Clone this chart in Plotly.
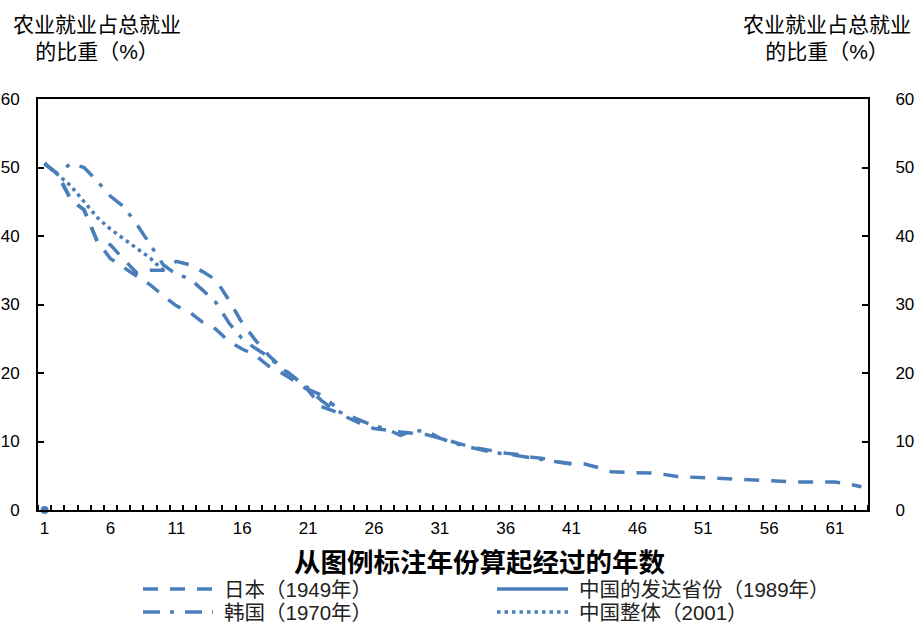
import plotly.graph_objects as go

# ---------------- data ----------------
categories = list(range(1, 64))
x_tick_labels = ["1", "6", "11", "16", "21", "26", "31", "36", "41", "46", "51", "56", "61"]
y_ticks = [0, 10, 20, 30, 40, 50, 60]

japan_1949 = [50.6, 49.0, 45.3, 43.8, 39.2, 36.7, 35.4, 34.2, 32.9, 31.3,
              29.8, 28.9, 27.4, 26.4, 24.6, 23.5, 22.6, 21.0, 20.0, 18.8,
              17.5, 15.1, 14.4, 13.5, 12.6, 11.9, 11.6, 11.4, 11.2, 11.0,
              10.5, 9.9, 9.4, 9.0, 8.6, 8.3, 8.1, 7.7, 7.5, 7.0,
              6.8, 6.7, 6.2, 5.6, 5.5, 5.5, 5.4, 5.2, 4.9, 4.8,
              4.7, 4.6, 4.5, 4.4, 4.3, 4.2, 4.2, 4.1, 4.1, 4.1,
              4.1, 3.8, 3.4]
korea_1970 = [50.5, 49.1, 50.6, 50.0, 48.0, 45.8, 44.3, 41.7, 38.8, 35.8,
              34.4, 33.8, 32.1, 30.3, 27.3, 25.0, 23.6, 22.4, 20.6, 19.3,
              17.8, 16.0, 14.6, 13.8, 13.0, 12.3, 11.8, 10.9, 11.6, 11.5,
              10.5, 9.8, 9.3, 8.8, 8.4, 8.2, 7.9, 7.5, 7.3, 6.9, 6.7]
china_dev_1989 = [0.0]
china_total_2001 = [50.6, 49.0, 47.3, 45.0, 42.7, 41.0, 39.6, 38.1, 36.8, 35.0]
# an extra dashed series drawn in the chart without a legend entry
unlabeled_series = [50.6, 49.0, 45.3, 43.8, 39.2, 38.7, 36.6, 34.6, 35.0, 35.0,
                    36.3, 35.8, 34.8, 33.6, 30.6, 27.3, 24.8, 22.6, 20.8, 19.3,
                    17.6, 16.8, 15.2]

names = ["日本（1949年）", "中国的发达省份（1989年）", "韩国（1970年）", "中国整体（2001）"]

# ---------------- style ----------------
BLUE = "#4A7EBB"
W, H = 916, 623
L, R, T, B = 38, 868, 99, 510
LW = 3.5
DASH_JP = "15px,12px"
DASH_KR = "17px,10px,4px,11px"
DASH_CN = "3.5px,4px"
FONT = "Liberation Sans, Arial, Noto Sans CJK SC, sans-serif"


def px(x):
    return (x - L) / (R - L)


def py(y):
    return (B - y) / (B - T)


fig = go.Figure()


def add(yvals, dash, name):
    fig.add_trace(go.Scatter(
        x=categories[:len(yvals)], y=yvals, mode="lines", name=name,
        line=dict(color=BLUE, width=LW, dash=dash), showlegend=False,
        hoverinfo="skip"))


add(unlabeled_series, DASH_JP, "未标注")
add(japan_1949, DASH_JP, names[0])
add(korea_1970, DASH_KR, names[2])
add(china_total_2001, DASH_CN, names[3])
fig.add_trace(go.Scatter(
    x=categories[:len(china_dev_1989)], y=china_dev_1989, mode="lines+markers",
    name=names[1], line=dict(color=BLUE, width=LW),
    marker=dict(color=BLUE, size=8), cliponaxis=False, showlegend=False))
# invisible trace on right axis so it renders
fig.add_trace(go.Scatter(x=[categories[0]], y=[None], yaxis="y2", showlegend=False))

axis_common = dict(showline=True, linecolor="black", linewidth=2,
                   showgrid=False, zeroline=False, automargin=False,
                   tickfont=dict(family=FONT, size=17, color="black"))

fig.update_layout(
    width=W, height=H,
    margin=dict(l=L, r=W - R, t=T, b=H - B, autoexpand=False),
    paper_bgcolor="white", plot_bgcolor="white",
    xaxis=dict(range=[0.5, 63.5], tickmode="array",
               tickvals=[int(t) for t in x_tick_labels], ticktext=x_tick_labels,
               ticks="", mirror=True, ticklabelstandoff=2,
               minor=dict(ticks="inside", tick0=0.5, dtick=1, ticklen=5,
                          tickcolor="black", tickwidth=1.5, showgrid=False),
               **axis_common),
    yaxis=dict(range=[0, 60], tickvals=y_ticks, ticks="inside", ticklen=6,
               tickwidth=1.5, tickcolor="black", ticklabelstandoff=13,
               **axis_common),
    yaxis2=dict(range=[0, 60], tickvals=y_ticks, ticks="inside", ticklen=6,
                tickwidth=1.5, tickcolor="black", overlaying="y", side="right",
                ticklabelstandoff=22, **axis_common),
)

ann = []
# axis titles on top
for cx in (97, 827):
    ann.append(dict(xref="paper", yref="paper", x=px(cx), y=py(38),
                    text="农业就业占总就业<br>的比重（%）",
                    showarrow=False, xanchor="center", yanchor="middle", align="center",
                    font=dict(family=FONT, size=21, color="black")))
# x axis title
ann.append(dict(xref="paper", yref="paper", x=px(480), y=py(560),
                text="<b>从图例标注年份算起经过的年数</b>",
                showarrow=False, xanchor="center", yanchor="middle",
                font=dict(family="Noto Sans CJK SC, sans-serif", size=26.5, color="black")))

# custom legend
legend_items = [
    (names[0], DASH_JP, 143, 213, 589, 222),
    (names[1], "solid", 497, 568, 589, 577),
    (names[2], DASH_KR, 143, 213, 612, 222),
    (names[3], DASH_CN, 497, 568, 612, 577),
]
shapes = []
for text, dash, x0, x1, yy, tx in legend_items:
    shapes.append(dict(type="line", xref="paper", yref="paper",
                       x0=px(x0), x1=px(x1), y0=py(yy), y1=py(yy),
                       line=dict(color=BLUE, width=LW, dash=dash)))
    ann.append(dict(xref="paper", yref="paper", x=px(tx), y=py(yy), text=text,
                    showarrow=False, xanchor="left", yanchor="middle",
                    font=dict(family=FONT, size=20.5, color="#222222")))

fig.update_layout(annotations=ann, shapes=shapes)
# remove the default page margin so the figure sits at the window's top-left corner
fig.write_html("out.html", config={"displayModeBar": False},
               post_script="document.body.style.margin='0';document.body.style.overflow='hidden';")
